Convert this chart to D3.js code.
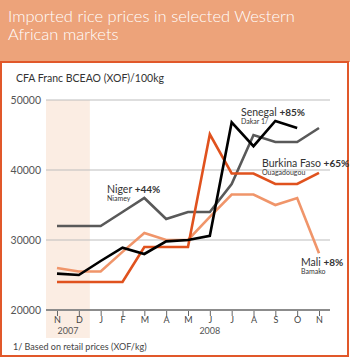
<!DOCTYPE html>
<html><head><meta charset="utf-8">
<script src="https://cdn.jsdelivr.net/npm/d3@7"></script>
<style>
html,body{margin:0;padding:0;background:#fff;}
svg{display:block;font-family:Lato,"Open Sans",sans-serif;}
</style></head>
<body>
<svg id="c" width="350" height="358"></svg>
<script>
const months = ["N","D","J","F","M","A","M","J","J","A","S","O","N"];
const years = [{label:"2007", from:0, to:1},{label:"2008", from:2, to:12}];
const yTicks = [20000,30000,40000,50000];
const niger   = [32000,32000,32000,34000,36000,33000,34000,34000,38000,45000,44000,44000,46000];
const senegal = [25200,25000,27000,28900,28000,29800,30000,30600,46800,43400,47000,46000,null];
const burkina = [24000,24000,24000,24000,29000,29000,29000,45100,39500,39500,38000,38000,39600];
const mali    = [26000,25500,25500,28300,31000,30000,30000,33300,36500,36500,35000,36000,28100];

const svg = d3.select("#c");
svg.append("rect").attr("x",0).attr("y",0).attr("width",350).attr("height",62).attr("fill","#EDA37A");
svg.append("rect").attr("x",1).attr("y",62).attr("width",347).attr("height",294)
  .attr("fill","#fff").attr("stroke","#E1582A").attr("stroke-width",2);
const title = svg.append("text").attr("fill","#fff").attr("font-size",16.5).attr("font-weight",300);
title.append("tspan").attr("x",8).attr("y",22).text("Imported rice prices in selected Western");
title.append("tspan").attr("x",8).attr("y",40).text("African markets");

svg.append("text").attr("x",16).attr("y",82).attr("font-size",10.5).attr("fill","#333")
  .text("CFA Franc BCEAO (XOF)/100kg");

const x = d3.scalePoint().domain(d3.range(months.length)).range([57,319]);
const y = d3.scaleLinear().domain([20000,50000]).range([310,100]);

svg.append("rect").attr("x",46).attr("y",y(50000)).attr("width",x(1)+11-46).attr("height",338-y(50000))
  .attr("fill","#FBEDE3");

svg.append("g").selectAll("line").data(yTicks.filter(d=>d>20000)).join("line")
  .attr("x1",46).attr("x2",330).attr("y1",d=>y(d)).attr("y2",d=>y(d))
  .attr("stroke","#BDBDBD").attr("stroke-width",1);

svg.append("g").selectAll("text").data(yTicks).join("text")
  .attr("x",41).attr("y",d=>y(d)+4).attr("text-anchor","end").attr("font-size",10.5).attr("fill","#555")
  .text(d=>d);

const xAxis = d3.axisBottom(x).tickSize(6).tickFormat(i=>months[i]);
const gx = svg.append("g").attr("transform","translate(0,310)").call(xAxis);
gx.select(".domain").remove();
gx.selectAll(".tick line").attr("stroke","#666").attr("stroke-width",1);
gx.selectAll(".tick text").attr("font-size",9).attr("fill","#444").attr("y",13).attr("dy","0")
  .attr("font-family","Lato,'Open Sans',sans-serif");
svg.append("line").attr("x1",46).attr("x2",330).attr("y1",310).attr("y2",310)
  .attr("stroke","#8C8C8C").attr("stroke-width",2);

svg.append("g").selectAll("text").data(years).join("text")
  .attr("x",d=>(x(d.from)+x(d.to))/2).attr("y",334).attr("text-anchor","middle")
  .attr("font-size",9).attr("fill","#555").text(d=>d.label);

svg.append("text").attr("x",13).attr("y",350).attr("font-size",9).attr("fill","#444")
  .text("1/ Based on retail prices (XOF/kg)");

const line = d3.line().defined(d=>d!=null).x((d,i)=>x(i)).y(d=>y(d));
const series = [
  {v:niger, c:"#595959"},
  {v:mali, c:"#F0956A"},
  {v:burkina, c:"#E0521E"},
  {v:senegal, c:"#000000"}
];
svg.append("g").selectAll("path").data(series).join("path")
  .attr("d",d=>line(d.v)).attr("fill","none").attr("stroke",d=>d.c)
  .attr("stroke-width",2.6).attr("stroke-linejoin","miter");

function lab(xp, yp, name, pct, city){
  const t = svg.append("text").attr("x",xp).attr("y",yp).attr("font-size",10.5).attr("fill","#333");
  t.append("tspan").text(name+" ");
  t.append("tspan").attr("font-weight",700).attr("font-size",10).text(pct);
  svg.append("text").attr("x",xp).attr("y",yp+8.5).attr("font-size",7).attr("fill","#333").text(city);
}
lab(241,115.5,"Senegal","+85%","Dakar 1/");
lab(262,166.5,"Burkina Faso","+65%","Ouagadougou");
lab(107,192.5,"Niger","+44%","Niamey");
lab(301,265.5,"Mali","+8%","Bamako");
</script>
</body></html>
